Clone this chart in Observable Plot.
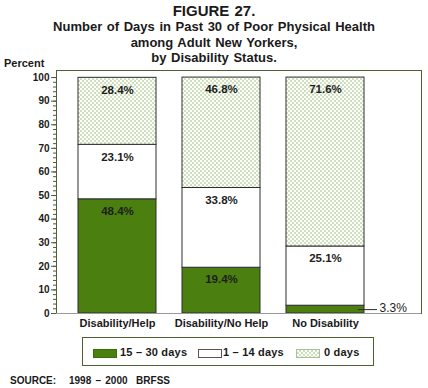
<!DOCTYPE html>
<html>
<head>
<meta charset="utf-8">
<script src="https://cdn.jsdelivr.net/npm/d3@7"></script>
<script src="https://cdn.jsdelivr.net/npm/@observablehq/plot@0.6"></script>
<style>
  html, body { margin: 0; padding: 0; background: #fff; }
  #wrap { position: relative; width: 428px; height: 388px; font-family: "Liberation Sans", Arial, Helvetica, sans-serif; color: #1a1a1a; overflow: hidden; }
  .tl { position: absolute; left: 0; width: 428px; text-align: center; font-weight: bold; font-size: 13px; line-height: 16px; word-spacing: 1px; white-space: pre; }
  #percent { position: absolute; left: 4px; top: 57px; font-weight: bold; font-size: 11px; }
  #chart { position: absolute; top: 62px; left: 0; }
  #legend { position: absolute; left: 82px; top: 337px; width: 290px; height: 27px; border: 1px solid #4d5f33; }
  .sw { position: absolute; top: 11px; height: 7px; width: 22px; }
  .lt { position: absolute; top: 7px; font-weight: bold; font-size: 11px; line-height: 14px; white-space: pre; letter-spacing: 0.2px; }
  #source { position: absolute; left: 10px; top: 375px; font-weight: bold; font-size: 10px; white-space: pre; word-spacing: 1.5px; }
</style>
</head>
<body>
<div id="wrap">
  <div class="tl" style="top:3px;font-size:15px;">FIGURE 27.</div>
  <div class="tl" style="top:19px;">Number of Days in Past 30 of Poor Physical Health</div>
  <div class="tl" style="top:35px;">among Adult New Yorkers,</div>
  <div class="tl" style="top:50px;">by Disability Status.</div>
  <div id="chart"></div>
  <div id="percent">Percent</div>
  <div id="legend"></div>
  <div id="source">SOURCE:   1998 – 2000  BRFSS</div>
</div>
<script>
// ---- data ----
const categories = ["Disability/Help", "Disability/No Help", "No Disability"];
const groups = ["15 – 30 days", "1 – 14 days", "0 days"];
const days15to30 = [48.4, 19.4, 3.3];
const days1to14 = [23.1, 33.8, 25.1];
const days0 = [28.4, 46.8, 71.6];
const yTicks = [0, 10, 20, 30, 40, 50, 60, 70, 80, 90, 100];
const yMinorTicks = d3.range(0, 101, 2);

const series = [days15to30, days1to14, days0];
const rows = [];
categories.forEach((c, i) => {
  groups.forEach((g, j) => rows.push({category: c, group: g, value: series[j][i]}));
});

const green = "#4b7f0f";
const axisColor = "#4d5f33";
const fills = [green, "#ffffff", "url(#crosshatch)"];

const chart = Plot.plot({
  width: 428,
  height: 270,
  marginTop: 8,
  marginBottom: 19,
  marginLeft: 56,
  marginRight: 7,
  style: {fontFamily: "'Liberation Sans', Arial, sans-serif", color: "#1a1a1a", background: "transparent", overflow: "visible"},
  x: {domain: categories, range: [78, 364], padding: 0.25, paddingOuter: 0, axis: null},
  y: {domain: [0, 103], axis: null},
  color: {domain: groups, range: fills},
  marks: [
    Plot.barY(rows, {x: "category", y: "value", fill: "group", stroke: "#2e2e2e", strokeWidth: 1}),
    Plot.frame({stroke: axisColor, strokeWidth: 1}),
    Plot.ruleY([0], {stroke: "#9a9a9a", strokeWidth: 1.2}),
    Plot.axisY({ticks: yMinorTicks, tickSize: 3, tickFormat: () => "", stroke: axisColor, label: null}),
    Plot.axisY({ticks: yTicks, tickSize: 5, tickPadding: 2, stroke: axisColor, fontSize: 10, fontWeight: "bold", fill: "#1a1a1a", label: null}),
    Plot.axisX({tickSize: 0, tickPadding: 6, fontSize: 11, fontWeight: "bold", fill: "#1a1a1a", label: null}),
    Plot.text(rows, Plot.stackY2({
      x: "category", y: "value",
      text: d => d.value >= 5 ? d.value.toFixed(1) + "%" : "",
      dy: 12, fontSize: 11.5, fontWeight: "bold", fill: "#1e1e1e"
    })),
    Plot.tickY(rows, Plot.stackY({
      x: "category", y: "value", filter: d => d.value < 5,
      insetLeft: 72, insetRight: -13, stroke: "#2e2e2e", strokeWidth: 1
    })),
    Plot.text(rows, Plot.stackY({
      x: "category", y: "value", filter: d => d.value < 5,
      text: d => d.value.toFixed(1) + "%",
      dx: 54, dy: -1, textAnchor: "start", fontSize: 12, fill: "#1e1e1e"
    }))
  ]
});

const defs = `<defs>
  <pattern id="crosshatch" patternUnits="userSpaceOnUse" width="4" height="4">
    <rect width="4" height="4" fill="#ffffff"/>
    <rect x="0" y="0" width="2" height="2" fill="#cfe0bd"/>
    <rect x="2" y="2" width="2" height="2" fill="#cfe0bd"/>
  </pattern>
</defs>`;
chart.insertAdjacentHTML("afterbegin", defs);
document.getElementById("chart").appendChild(chart);

// ---- legend ----
const legend = document.getElementById("legend");
const swatchX = [10, 115, 213];
const textX = [37, 140, 241];
const swatchStroke = ["#3d6a0a", "#555555", "#a9c096"];
groups.forEach((g, j) => {
  const sw = document.createElement("div");
  sw.className = "sw";
  sw.style.left = swatchX[j] + "px";
  sw.style.border = "1px solid " + swatchStroke[j];
  if (j === 2) {
    sw.style.background = "repeating-conic-gradient(#cfe0bd 0 25%, #ffffff 0 50%) 0 0 / 4px 4px";
  } else {
    sw.style.background = fills[j];
  }
  legend.appendChild(sw);
  const t = document.createElement("div");
  t.className = "lt";
  t.style.left = textX[j] + "px";
  t.textContent = g;
  legend.appendChild(t);
});
</script>
</body>
</html>
